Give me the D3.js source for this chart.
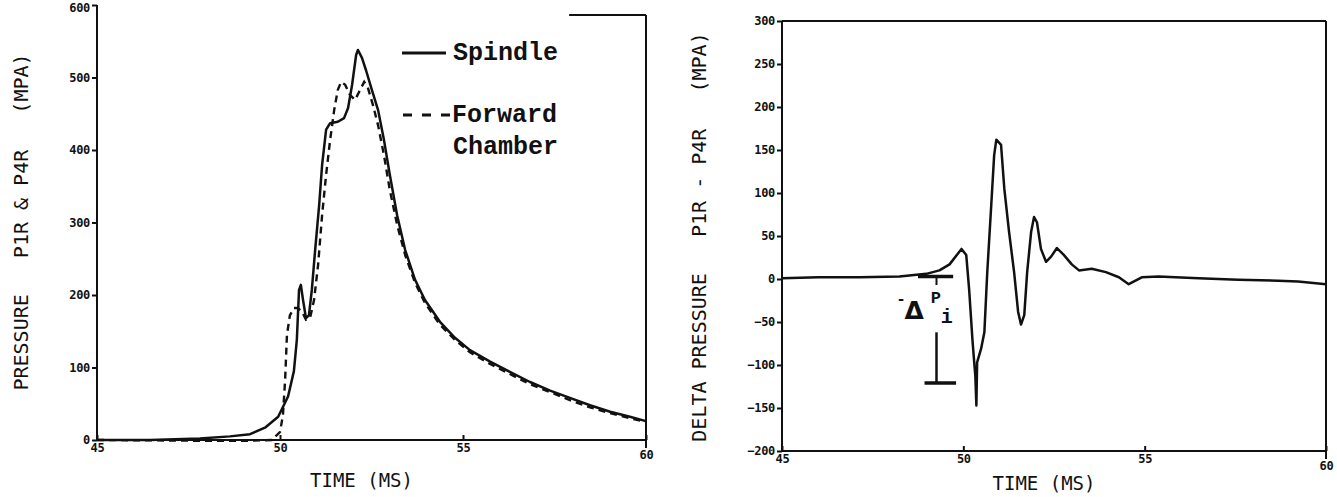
<!DOCTYPE html>
<html><head><meta charset="utf-8">
<script src="https://cdn.jsdelivr.net/npm/d3@7"></script>
<style>
body{margin:0;background:#fff;}
svg{display:block;}
</style></head><body>
<svg id="c" width="1337" height="497"></svg>
<script>
// ---------- data ----------
const timeTicks = [45, 50, 55, 60];
const leftYTicks = [0, 100, 200, 300, 400, 500, 600];
const rightYTicks = [-200, -150, -100, -50, 0, 50, 100, 150, 200, 250, 300];

const spindleTime = [45,46.45,47.81,48.63,49.18,49.59,49.95,50.22,50.38,50.46,50.52,50.57,50.63,50.71,50.79,50.87,50.96,51.07,51.15,51.26,51.37,51.58,51.75,51.86,51.97,52.08,52.13,52.24,52.35,52.51,52.68,52.84,53.0,53.2,53.42,53.69,53.96,54.37,54.78,55.19,55.74,56.28,56.83,57.38,57.92,58.47,59.02,59.56,60];
const spindlePressure = [0,0,2,5,8,17,32,60,95,138,207,214,193,168,172,207,262,324,379,428,437,439,444,458,490,531,538,527,510,483,455,414,366,310,262,221,193,163,141,124,108,94,80,68,58,48,39,32,26];

const forwardTime = [45,47.81,49.18,49.78,50,50.08,50.14,50.19,50.27,50.38,50.49,50.6,50.71,50.82,50.93,51.04,51.15,51.26,51.37,51.48,51.58,51.67,51.78,51.91,52.05,52.16,52.3,52.4,52.54,52.68,52.84,53.0,53.2,53.42,53.69,53.96,54.37,54.78,55.19,55.74,56.28,56.83,57.38,57.92,58.47,59.02,59.56,60];
const forwardPressure = [0,-1,-1,0,11,34,83,145,172,182,182,177,166,168,193,241,310,366,414,455,483,494,490,476,469,480,494,486,462,434,393,345,297,255,217,189,159,138,121,105,91,77,66,55,45,37,30,25];

const deltaTime = [45,46.0,47.14,48.24,48.98,49.34,49.62,49.95,50.08,50.16,50.25,50.3,50.33,50.36,50.38,50.49,50.58,50.66,50.77,50.85,50.91,51.04,51.13,51.26,51.4,51.51,51.59,51.68,51.76,51.87,51.95,52.03,52.14,52.28,52.42,52.58,52.77,52.99,53.19,53.54,53.93,54.29,54.56,54.92,55.38,56.48,57.58,58.68,59.23,60];
const deltaPressure = [1,2,2,3,6,10,17,35,28,-12,-70,-97,-112,-147,-97,-81,-62,8,86,144,162,156,105,55,8,-38,-53,-42,8,55,72,66,35,20,26,36,28,17,10,12,8,2,-6,2,3,1,-1,-2,-3,-6];

// ---------- setup ----------
const svg = d3.select("#c");
const ink = "#111";
const tickFont = "'DejaVu Sans Mono', monospace";
const titleFont = "'DejaVu Sans Mono', monospace";
const legendFont = "'Liberation Mono', 'Courier New', monospace";

function drawPanel(cfg) {
  const g = svg.append("g");
  const x = cfg.x, y = cfg.y;
  const [x0, x1] = x.range();
  const [yb, yt] = y.range();

  const ya = g.append("g").attr("transform", `translate(${x0},0)`)
    .call(d3.axisLeft(y).tickValues(cfg.yTicks).tickSize(5).tickPadding(2).tickFormat(d3.format("d")));
  ya.select(".domain").remove();
  ya.selectAll("line").attr("stroke", ink).attr("stroke-width", 2);
  ya.selectAll("text").attr("font-family", tickFont).attr("font-weight", "bold")
    .attr("font-size", 12).attr("fill", ink).attr("letter-spacing", -0.3)
    .attr("dy", (d) => (y(d) < 8 ? "0.55em" : "0.32em"));

  const xa = g.append("g").attr("transform", `translate(0,${yb})`)
    .call(d3.axisBottom(x).tickValues(timeTicks).tickSizeInner(-5).tickSizeOuter(0).tickPadding(3).tickFormat(d3.format("d")));
  xa.select(".domain").remove();
  xa.selectAll("line").attr("stroke", ink).attr("stroke-width", 2);
  xa.selectAll("text").attr("font-family", tickFont).attr("font-weight", "bold")
    .attr("font-size", 12).attr("fill", ink).attr("letter-spacing", -0.3)
    .attr("dy", (d) => d === 60 ? "1.3em" : "0.71em");

  g.append("line").attr("x1", x0).attr("x2", x0).attr("y1", yb).attr("y2", yt)
    .attr("stroke", ink).attr("stroke-width", 2);
  g.append("line").attr("x1", x0).attr("x2", x1).attr("y1", yb).attr("y2", yb)
    .attr("stroke", ink).attr("stroke-width", 2);
  g.append("line").attr("x1", x1).attr("x2", x1).attr("y1", cfg.topY).attr("y2", yb + 8)
    .attr("stroke", ink).attr("stroke-width", 2);
  g.append("line").attr("x1", x(cfg.topFrom)).attr("x2", x1).attr("y1", cfg.topY).attr("y2", cfg.topY)
    .attr("stroke", ink).attr("stroke-width", 2);

  g.append("text").attr("x", (x0 + x1) / 2 - 10).attr("y", cfg.xTitleY)
    .attr("text-anchor", "middle").attr("font-family", titleFont).attr("font-size", 19)
    .attr("fill", ink).text("TIME (MS)");
  g.append("text")
    .attr("transform", `translate(${cfg.yTitleX},${cfg.yTitleY}) rotate(-90)`)
    .attr("text-anchor", "middle").attr("font-family", titleFont).attr("font-size", 20)
    .attr("fill", ink).style("white-space", "pre").text(cfg.yTitle);
  return g;
}

// ---------- left panel ----------
const xL = d3.scaleLinear().domain([45, 60]).range([97, 646]);
const yL = d3.scaleLinear().domain([0, 600]).range([440, 5]);
const gL = drawPanel({x: xL, y: yL, yTicks: leftYTicks, topY: 15, topFrom: 57.9,
  xTitleY: 487, yTitleX: 28, yTitleY: 222, yTitle: "PRESSURE   P1R & P4R   (MPA)"});

const lineL = d3.line().x(d => xL(d[0])).y(d => yL(d[1]));
gL.append("path").datum(d3.zip(spindleTime, spindlePressure))
  .attr("d", lineL).attr("fill", "none").attr("stroke", ink).attr("stroke-width", 2.5)
  .attr("stroke-linejoin", "round");
gL.append("path").datum(d3.zip(forwardTime, forwardPressure))
  .attr("d", lineL).attr("fill", "none").attr("stroke", ink).attr("stroke-width", 2.4)
  .attr("stroke-dasharray", "7,5");

// legend
const lg = gL.append("g");
lg.append("line").attr("x1", 402).attr("x2", 446).attr("y1", 53).attr("y2", 53)
  .attr("stroke", ink).attr("stroke-width", 3);
lg.append("text").attr("x", 453).attr("y", 60).attr("font-family", legendFont)
  .attr("font-weight", "bold").attr("font-size", 25).attr("fill", ink).text("Spindle");
lg.append("line").attr("x1", 403).attr("x2", 452).attr("y1", 115).attr("y2", 115)
  .attr("stroke", ink).attr("stroke-width", 3).attr("stroke-dasharray", "9,10");
lg.append("text").attr("x", 452).attr("y", 122).attr("font-family", legendFont)
  .attr("font-weight", "bold").attr("font-size", 25).attr("fill", ink).text("Forward");
lg.append("text").attr("x", 453).attr("y", 154).attr("font-family", legendFont)
  .attr("font-weight", "bold").attr("font-size", 25).attr("fill", ink).text("Chamber");

// ---------- right panel ----------
const xR = d3.scaleLinear().domain([45, 60]).range([782, 1326]);
const yR = d3.scaleLinear().domain([-200, 300]).range([451, 21]);
const gR = drawPanel({x: xR, y: yR, yTicks: rightYTicks, topY: 21, topFrom: 45,
  xTitleY: 490, yTitleX: 706, yTitleY: 237, yTitle: "DELTA PRESSURE   P1R - P4R   (MPA)"});

const lineR = d3.line().x(d => xR(d[0])).y(d => yR(d[1]));
gR.append("path").datum(d3.zip(deltaTime, deltaPressure))
  .attr("d", lineR).attr("fill", "none").attr("stroke", ink).attr("stroke-width", 2.5)
  .attr("stroke-linejoin", "round");

// delta P annotation
const ann = gR.append("g");
ann.append("line").attr("x1", xR(48.75)).attr("x2", xR(49.72)).attr("y1", yR(3)).attr("y2", yR(3))
  .attr("stroke", ink).attr("stroke-width", 3.5);
ann.append("line").attr("x1", xR(49.26)).attr("x2", xR(49.26)).attr("y1", yR(3)).attr("y2", yR(-7))
  .attr("stroke", ink).attr("stroke-width", 2);
ann.append("line").attr("x1", xR(49.26)).attr("x2", xR(49.26)).attr("y1", yR(-62)).attr("y2", yR(-121))
  .attr("stroke", ink).attr("stroke-width", 2.5);
ann.append("line").attr("x1", xR(48.93)).attr("x2", xR(49.8)).attr("y1", yR(-121)).attr("y2", yR(-121))
  .attr("stroke", ink).attr("stroke-width", 3.5);
ann.append("text").attr("x", xR(48.15)).attr("y", yR(-29)).attr("font-family", legendFont)
  .attr("font-size", 16).attr("font-weight", "bold").attr("fill", ink).text("-");
ann.append("text").attr("x", xR(48.38)).attr("y", yR(-46)).attr("font-family", "'DejaVu Sans', sans-serif")
  .attr("font-size", 25).attr("font-weight", "bold").attr("fill", ink).text("Δ");
ann.append("text").attr("x", xR(49.1)).attr("y", yR(-28)).attr("font-family", legendFont)
  .attr("font-size", 17).attr("font-weight", "bold").attr("fill", ink).text("P");
ann.append("text").attr("x", xR(49.38)).attr("y", yR(-51)).attr("font-family", legendFont)
  .attr("font-size", 20).attr("font-weight", "bold").attr("fill", ink).text("i");
</script>
</body></html>
